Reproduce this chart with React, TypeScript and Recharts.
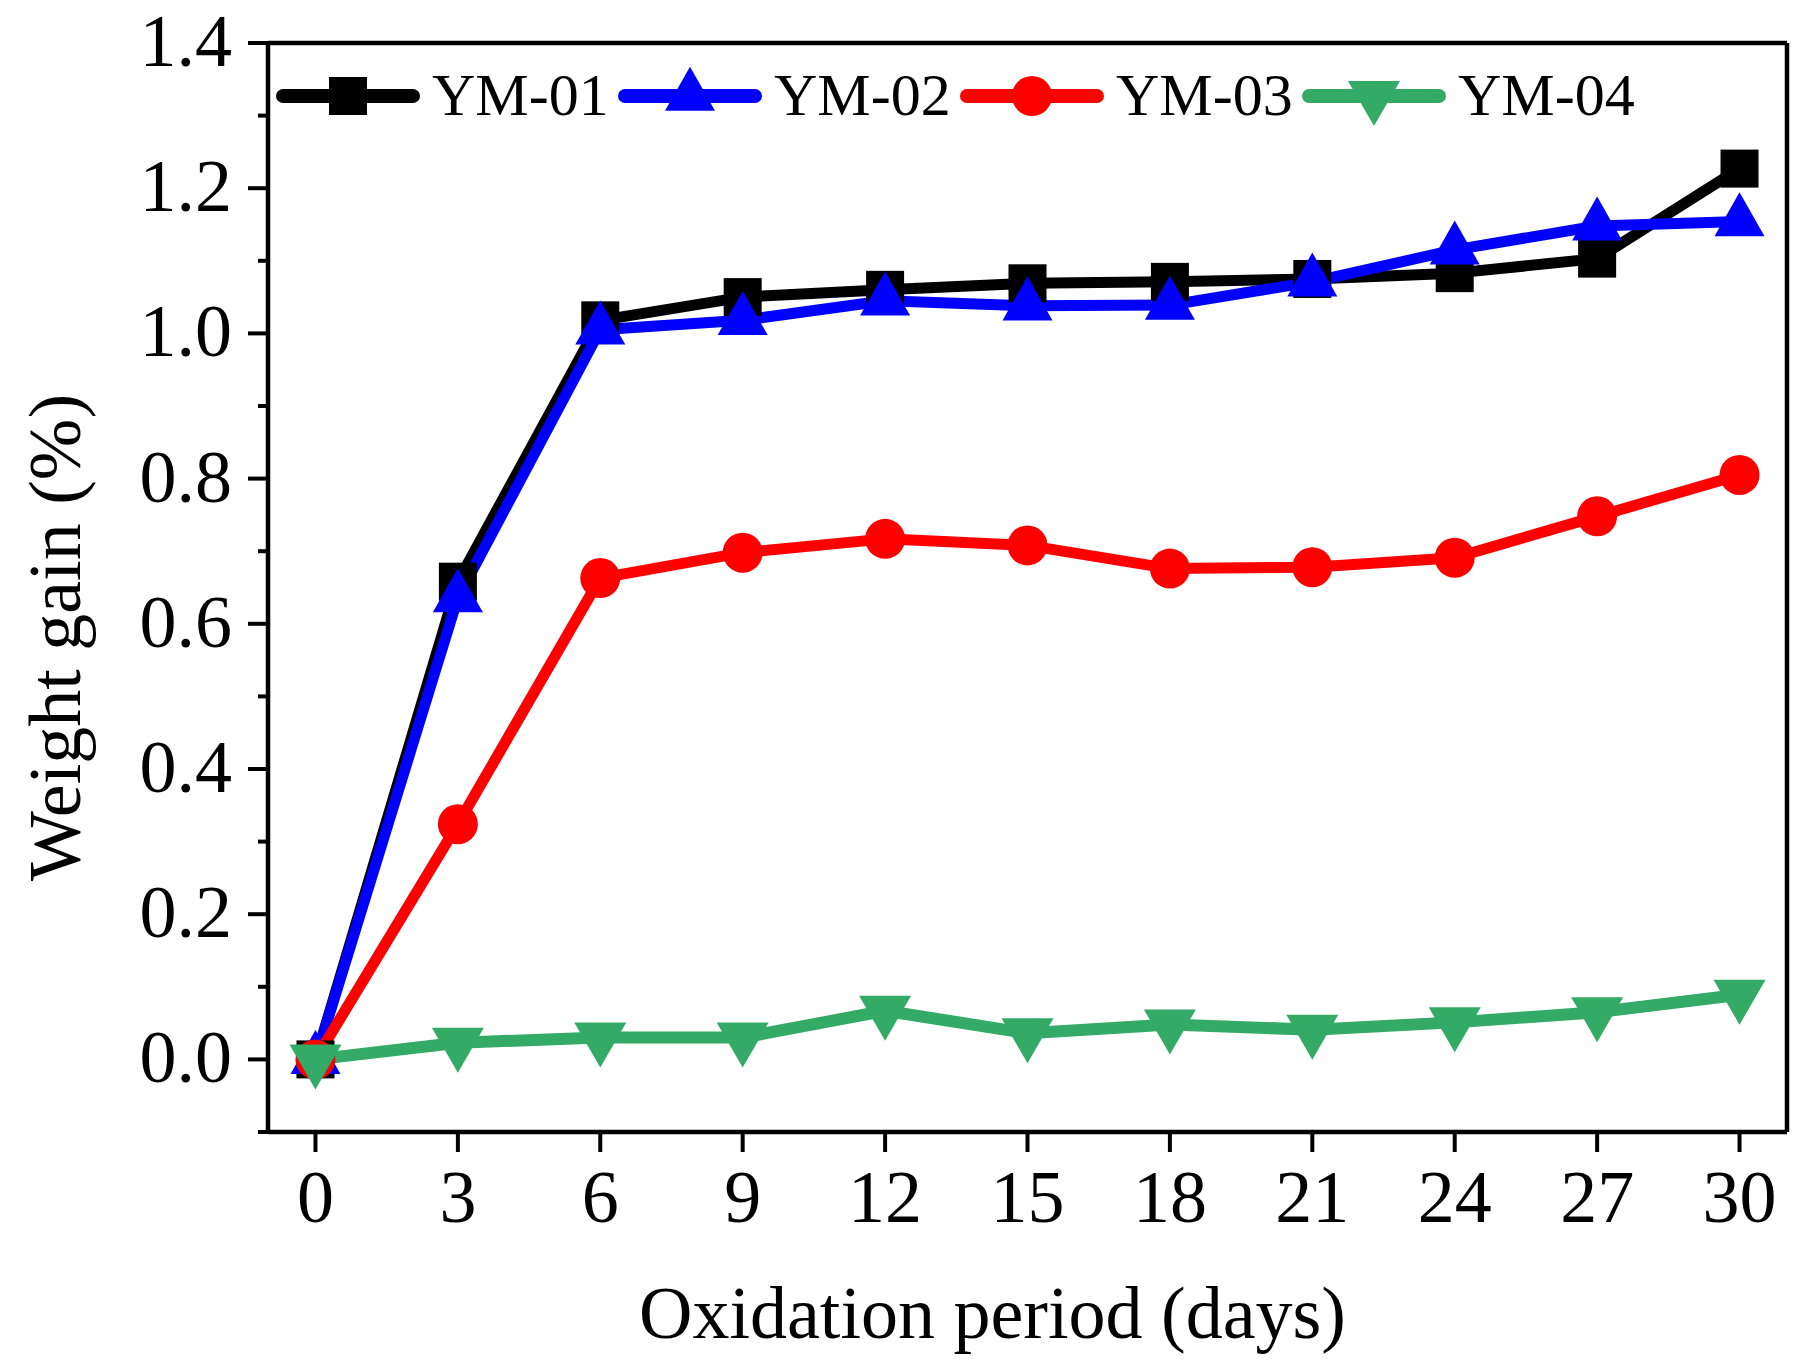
import React from "react";
import {
  Label,
  Legend,
  Line,
  LineChart,
  ReferenceLine,
  XAxis,
  YAxis,
} from "recharts";

const DAYS = [0, 3, 6, 9, 12, 15, 18, 21, 24, 27, 30];
const YM01 = [0, 0.658, 1.018, 1.05, 1.06, 1.069, 1.071, 1.075, 1.083, 1.103, 1.227];
const YM02 = [0, 0.636, 1.005, 1.018, 1.045, 1.038, 1.039, 1.071, 1.115, 1.148, 1.154];
const YM03 = [0, 0.324, 0.663, 0.698, 0.717, 0.708, 0.676, 0.678, 0.691, 0.748, 0.805];
const YM04 = [0, 0.023, 0.03, 0.03, 0.067, 0.036, 0.048, 0.041, 0.051, 0.065, 0.089];

const X_TICKS = [0, 3, 6, 9, 12, 15, 18, 21, 24, 27, 30];
const Y_TICKS = [-0.1, 0, 0.1, 0.2, 0.3, 0.4, 0.5, 0.6, 0.7, 0.8, 0.9, 1.0, 1.1, 1.2, 1.3, 1.4];

const data = DAYS.map((day, i) => ({
  day,
  ym01: YM01[i],
  ym02: YM02[i],
  ym03: YM03[i],
  ym04: YM04[i],
}));

type Shape = "square" | "triangle" | "circle" | "triangleDown";

const SERIES: { key: string; name: string; color: string; shape: Shape; width: number }[] = [
  { key: "ym01", name: "YM-01", color: "#000000", shape: "square", width: 11 },
  { key: "ym02", name: "YM-02", color: "#0000ff", shape: "triangle", width: 11 },
  { key: "ym03", name: "YM-03", color: "#ff0000", shape: "circle", width: 11 },
  { key: "ym04", name: "YM-04", color: "#33aa66", shape: "triangleDown", width: 12 },
];

const FONT = "'Liberation Serif', 'Times New Roman', serif";

function Marker({ shape, cx, cy, color }: { shape: Shape; cx: number; cy: number; color: string }) {
  if (shape === "square") {
    return <rect x={cx - 19} y={cy - 19} width={38} height={38} fill={color} />;
  }
  if (shape === "circle") {
    return <circle cx={cx} cy={cy} r={20} fill={color} />;
  }
  if (shape === "triangle") {
    const w = 50;
    const h = 44;
    return (
      <polygon
        points={`${cx},${cy - (2 * h) / 3} ${cx - w / 2},${cy + h / 3} ${cx + w / 2},${cy + h / 3}`}
        fill={color}
      />
    );
  }
  const w = 52;
  const h = 45;
  return (
    <polygon
      points={`${cx},${cy + (2 * h) / 3} ${cx - w / 2},${cy - h / 3} ${cx + w / 2},${cy - h / 3}`}
      fill={color}
    />
  );
}

const makeDot = (shape: Shape, color: string) => (props: any) => {
  const { cx, cy, index } = props;
  if (cx == null || cy == null) return <g key={`d-${index}`} />;
  return (
    <g key={`d-${shape}-${index}`}>
      <Marker shape={shape} cx={cx} cy={cy} color={color} />
    </g>
  );
};

function YTick({ x, y, payload }: any) {
  const v = payload.value as number;
  const major = Math.round(v * 10) % 2 === 0;
  return (
    <g>
      <line x1={x - (major ? 20 : 10)} x2={x} y1={y} y2={y} stroke="#000" strokeWidth={4} />
      {major && v >= 0 && (
        <text x={x - 36} y={y + 23} textAnchor="end" fontSize={74} fontFamily={FONT} fill="#000">
          {v.toFixed(1)}
        </text>
      )}
    </g>
  );
}

function XTick({ x, y, payload }: any) {
  return (
    <g>
      <line x1={x} x2={x} y1={y} y2={y + 20} stroke="#000" strokeWidth={4} />
      <text x={x} y={y + 90} textAnchor="middle" fontSize={74} fontFamily={FONT} fill="#000">
        {payload.value}
      </text>
    </g>
  );
}

function LegendBox() {
  return (
    <svg width={1420} height={64} style={{ display: "block", overflow: "visible" }}>
      {SERIES.map((s, i) => {
        const x0 = i * 342;
        return (
          <g key={s.key}>
            <line
              x1={x0 + 7}
              x2={x0 + 137}
              y1={30}
              y2={30}
              stroke={s.color}
              strokeWidth={14}
              strokeLinecap="round"
            />
            <Marker shape={s.shape} cx={x0 + 72} cy={30} color={s.color} />
            <text x={x0 + 156} y={49} fontSize={60} fontFamily={FONT} fill="#000">
              {s.name}
            </text>
          </g>
        );
      })}
    </svg>
  );
}

export default function App() {
  return (
    <div style={{ width: 1795, height: 1354, background: "#fff" }}>
      <LineChart
        width={1795}
        height={1354}
        data={data}
        margin={{ top: 35, right: 16, left: 0, bottom: 0 }}
      >
        <XAxis
          dataKey="day"
          type="number"
          domain={[-1, 31]}
          ticks={X_TICKS}
          allowDataOverflow
          height={230}
          tickSize={0}
          tickMargin={0}
          tickLine={false}
          axisLine={{ stroke: "#000", strokeWidth: 4.5 }}
          tick={<XTick />}
          interval={0}
        >
          <Label
            content={(p: any) => {
              const vb = p.viewBox || { x: 260, y: 1124, width: 1519 };
              return (
                <text
                  x={vb.x + vb.width / 2 - 35}
                  y={vb.y + 206}
                  textAnchor="middle"
                  fontSize={74}
                  fontFamily={FONT}
                  fill="#000"
                >
                  Oxidation period (days)
                </text>
              );
            }}
          />
        </XAxis>
        <YAxis
          type="number"
          domain={[-0.1, 1.4]}
          ticks={Y_TICKS}
          allowDataOverflow
          width={260}
          tickSize={0}
          tickMargin={0}
          tickLine={false}
          axisLine={{ stroke: "#000", strokeWidth: 4.5 }}
          tick={<YTick />}
          interval={0}
        >
          <Label
            content={(p: any) => {
              const vb = p.viewBox || { y: 35, height: 1089 };
              const cy = vb.y + vb.height / 2 + 50;
              return (
                <text
                  x={72}
                  y={cy}
                  transform={`rotate(-90 72 ${cy})`}
                  textAnchor="middle"
                  fontSize={74}
                  fontFamily={FONT}
                  fill="#000"
                >
                  Weight gain (%)
                </text>
              );
            }}
          />
        </YAxis>
        <ReferenceLine x={31} stroke="#000" strokeWidth={4.5} />
        <ReferenceLine y={1.4} stroke="#000" strokeWidth={4.5} />
        <Legend
          layout="vertical"
          align="center"
          verticalAlign="middle"
          content={() => <LegendBox />}
          wrapperStyle={{ position: "absolute", top: 58, left: 268, width: 1420, height: 64 }}
        />
        {SERIES.map((s) => (
          <Line
            key={s.key}
            type="linear"
            dataKey={s.key}
            name={s.name}
            stroke={s.color}
            strokeWidth={s.width}
            strokeLinejoin="round"
            dot={makeDot(s.shape, s.color)}
            activeDot={false}
            isAnimationActive={false}
          />
        ))}
      </LineChart>
    </div>
  );
}
